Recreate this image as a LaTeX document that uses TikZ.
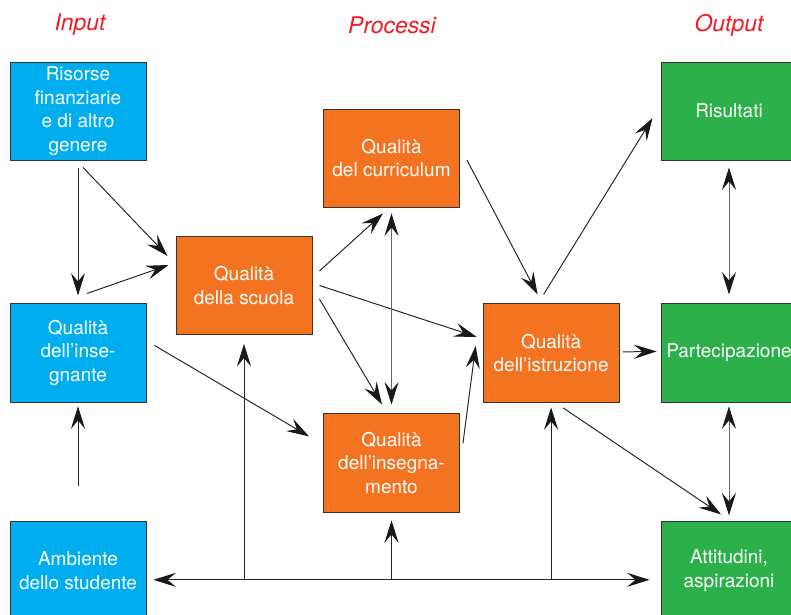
\documentclass[tikz,border=0pt]{standalone}
\usepackage{fontspec}
\setmainfont{TeX Gyre Heros}
\usetikzlibrary{arrows.meta, positioning}
\definecolor{inblue}{RGB}{0,174,239}
\definecolor{procorange}{RGB}{243,115,33}
\definecolor{outgreen}{RGB}{43,176,74}
\definecolor{headred}{RGB}{237,28,36}

\begin{document}
\begin{tikzpicture}[x=0.025cm, y=-0.025cm, >={Stealth[length=16pt, width=10pt, inset=6pt, color=black!90]},
  font=\fontsize{13.5}{16.8}\selectfont,
  box/.style={draw=black!80, line width=0.6pt, text=white, minimum width=3.4cm, minimum height=2.45cm, inner sep=2pt, align=center},
  inbox/.style={box, fill=inblue},
  procbox/.style={box, fill=procorange},
  outbox/.style={box, fill=outgreen},
  head/.style={text=headred, font=\fontsize{16.3}{19}\selectfont\itshape},
  arr/.style={->, line width=0.7pt, black!85},
  darr/.style={<->, line width=0.7pt, black!60}]
  \useasboundingbox (0,0) rectangle (791,614);
  % column headers
  \node[head] (hin) at (80,25) {Input};
  \node[head] (hproc) at (392,25) {Processi};
  \node[head] (hout) at (729,25) {Output};
  % input
  \node[inbox] (risorse) at (78,111) {Risorse\\finanziarie\\e di altro\\genere};
  \node[inbox, below=3.575cm of risorse] (insegnante) {Qualità\\dell’inse-\\gnante};
  \node[inbox, below=2.975cm of insegnante] (ambiente) {Ambiente\\dello studente};
  % processi
  \node[procbox] (scuola) at (244,285.5) {Qualità\\della scuola};
  \node[procbox] (curriculum) at (391.5,158) {Qualità\\del curriculum};
  \node[procbox, below=5.15cm of curriculum] (insegnamento) {Qualità\\dell’insegna-\\mento};
  % output
  \node[outbox] (risultati) at (729,111) {Risultati};
  \node[outbox, below=3.575cm of risultati] (partecipazione) {Partecipazione};
  \node[outbox, below=2.975cm of partecipazione] (attitudini) {Attitudini,\\aspirazioni};
  \node[procbox, left=1.025cm of partecipazione] (istruzione) {Qualità\\dell’istruzione};
  % input side
  \draw[arr] ([shift={(0,8)}]risorse.south) -- ([shift={(0,-8)}]insegnante.north);
  \draw[arr] ([shift={(5,7)}]risorse.south) -- ([shift={(-8,-29.5)}]scuola.west);
  \draw[arr] ([shift={(9,-10)}]insegnante.north) -- ([shift={(-7,-20.5)}]scuola.west);
  \draw[arr] ([shift={(0,-35)}]ambiente.north) -- ([shift={(0,4)}]insegnante.south);
  \draw[arr] ([shift={(8,-7.5)}]insegnante.east) -- ([shift={(-14,-26.5)}]insegnamento.west);
  % processi
  \draw[arr] ([shift={(7,-14.5)}]scuola.east) -- ([shift={(-8.5,6)}]curriculum.south);
  \draw[arr] ([shift={(7,0)}]scuola.east) -- ([shift={(-6,-16)}]istruzione.west);
  \draw[arr] ([shift={(7,13.5)}]scuola.east) -- ([shift={(-9.5,-9)}]insegnamento.north);
  \draw[darr] ([shift={(0,6)}]curriculum.south) -- ([shift={(0,-9)}]insegnamento.north);
  \draw[arr] ([shift={(7,2)}]curriculum.east) -- ([shift={(-13.5,-9)}]istruzione.north);
  \draw[arr] ([shift={(3,-19.5)}]insegnamento.east) -- ([shift={(-7,-7)}]istruzione.west);
  \draw[arr] ([shift={(3,-1)}]istruzione.east) -- ([shift={(-4,-1.5)}]partecipazione.west);
  % output
  \draw[arr] ([shift={(-7.5,-9)}]istruzione.north) -- ([shift={(-8,7)}]risultati.west);
  \draw[arr] ([shift={(12,5.5)}]istruzione.south) -- ([shift={(-8,-7)}]attitudini.north);
  \draw[darr] ([shift={(0,7)}]risultati.south) -- ([shift={(0,-9)}]partecipazione.north);
  \draw[darr] ([shift={(0,4)}]partecipazione.south) -- ([shift={(0,-6)}]attitudini.north);
  % ambiente dello studente
  \coordinate (bus) at ([shift={(0,9)}]ambiente.east);
  \draw[arr, <->] ([shift={(7,0)}]bus) -- ([shift={(-11,9)}]attitudini.west);
  \draw[arr] (scuola.south |- bus) -- ([shift={(0,9)}]scuola.south);
  \draw[arr] (insegnamento.south |- bus) -- ([shift={(0,8)}]insegnamento.south);
  \draw[arr] (istruzione.south |- bus) -- ([shift={(0,5)}]istruzione.south);
\end{tikzpicture}
\end{document}
